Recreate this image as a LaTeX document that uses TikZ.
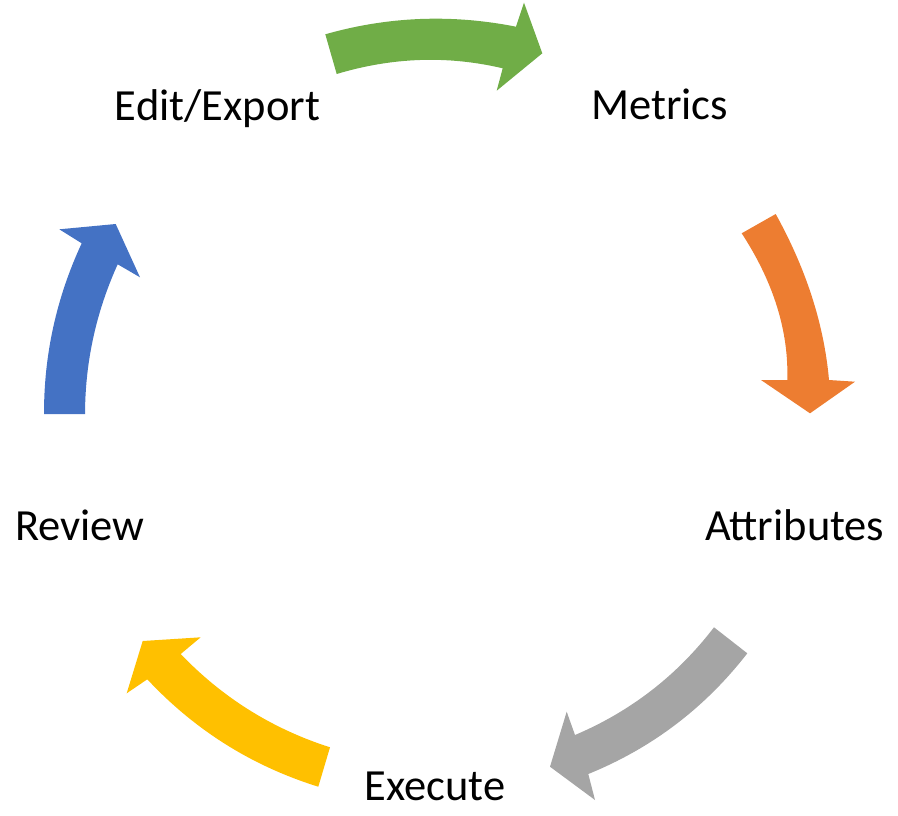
\documentclass[tikz,border=0pt]{standalone}
\usepackage{fontspec}
\setmainfont{Carlito}
\usetikzlibrary{calc}
\definecolor{cgreen}{HTML}{70AD47}
\definecolor{corange}{HTML}{ED7D31}
\definecolor{cgray}{HTML}{A5A5A5}
\definecolor{cyellow}{HTML}{FFC000}
\definecolor{cblue}{HTML}{4472C4}
\begin{document}
\begin{tikzpicture}[x=1pt,y=-1pt,
  lbl/.style={inner sep=0pt,anchor=base,font=\fontsize{44.5}{52}\selectfont}]
\useasboundingbox (0,0) rectangle (898,815);
% green arrow
\fill[cgreen] (325.3,34.3) -- (336.7,74)
  .. controls ($(336.7,74)!0.6667!(420.3,48.85)$) and ($(502.7,68.3)!0.6667!(420.3,48.85)$) .. (502.7,68.3)
  -- (496.7,90.7) -- (542.3,53.3) -- (524,2.7) -- (516,26.7)
  .. controls ($(516,26.7)!0.6667!(419.35,7.5)$) and ($(325.3,34.3)!0.6667!(419.35,7.5)$) .. cycle;
% orange arrow
\fill[corange] (741.7,233.3) -- (775.7,214)
  .. controls ($(775.7,214)!0.6667!(821.65,297)$) and ($(829,380)!0.6667!(821.65,297)$) .. (829,380)
  -- (855,381.7) -- (810,413.3) -- (761,380) -- (787.3,380)
  .. controls ($(787.3,380)!0.6667!(789.5,306.65)$) and ($(741.7,233.3)!0.6667!(789.5,306.65)$) .. cycle;
% gray arrow
\fill[cgray] (714,627.3) -- (747.3,653.3)
  .. controls ($(747.3,653.3)!0.6667!(683.9,735.1)$) and ($(588.3,774)!0.6667!(683.9,735.1)$) .. (588.3,774)
  -- (595,800) -- (550,766.7) -- (566.7,711.7) -- (575,735)
  .. controls ($(575,735)!0.6667!(658.7,699.5)$) and ($(714,627.3)!0.6667!(658.7,699.5)$) .. cycle;
% yellow arrow
\fill[cyellow] (330,747.3) -- (318.3,786.7)
  .. controls ($(318.3,786.7)!0.6667!(218.6,755.6)$) and ($(147.3,679.3)!0.6667!(218.6,755.6)$) .. (147.3,679.3)
  -- (126.7,693.3) -- (142.7,641) -- (200.7,637.3) -- (180.7,654)
  .. controls ($(180.7,654)!0.6667!(243.5,719.6)$) and ($(330,747.3)!0.6667!(243.5,719.6)$) .. cycle;
% blue arrow
\fill[cblue] (44,414) -- (85,414)
  .. controls ($(85,414)!0.6667!(85.3,335.7)$) and ($(117.7,264.3)!0.6667!(85.3,335.7)$) .. (117.7,264.3)
  -- (140,277.3) -- (115.7,224) -- (59.3,229.3) -- (81.7,243.3)
  .. controls ($(81.7,243.3)!0.6667!(43.9,324.5)$) and ($(44,414)!0.6667!(43.9,324.5)$) .. cycle;
% labels
\node[lbl] (edit) at (217.5,120) {Edit/Export};
\node[lbl] (metrics) at (659.7,119.3) {Metrics};
\node[lbl] (attr) at (794.7,540) {Attributes};
\node[lbl] (review) at (80,540) {Review};
\node[lbl] (exec) at (435,800.7) {Execute};
\end{tikzpicture}
\end{document}
